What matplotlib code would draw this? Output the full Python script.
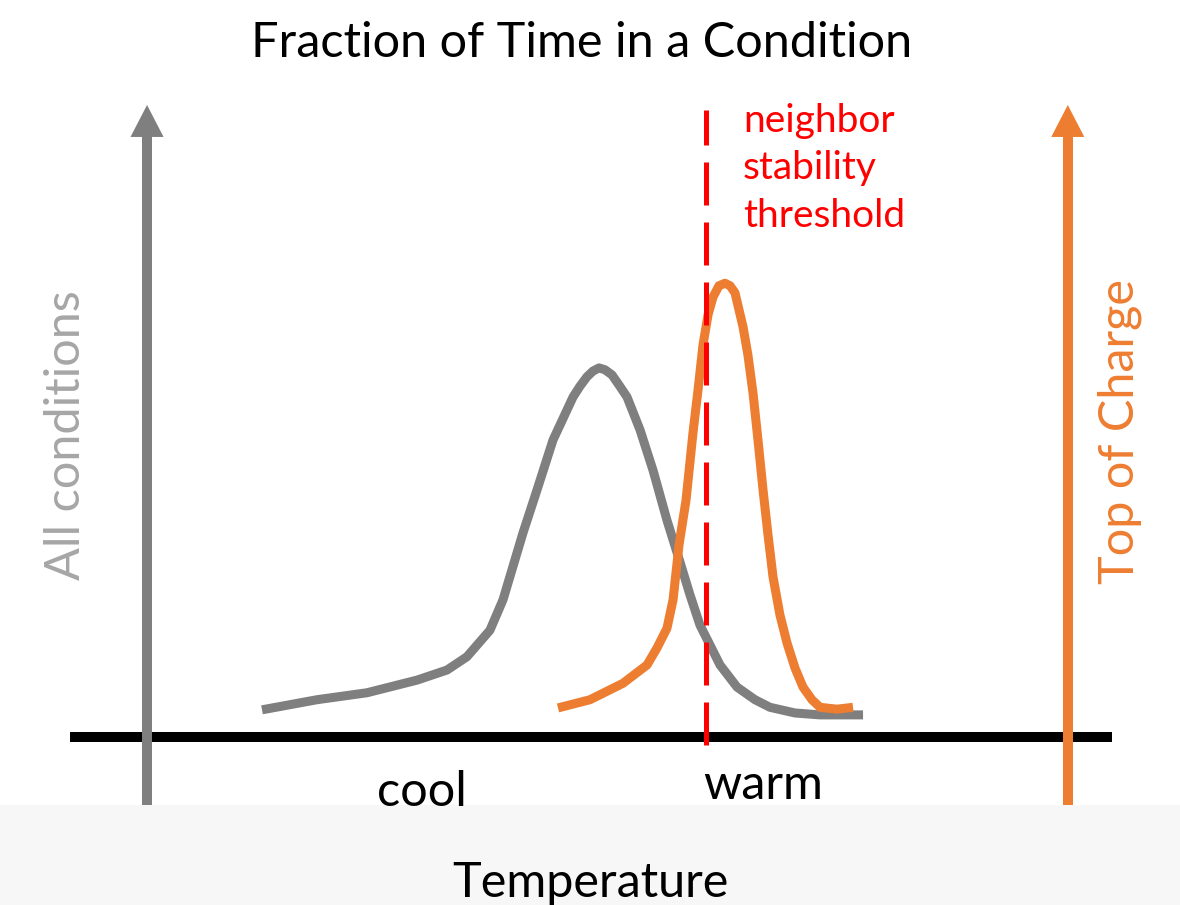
import matplotlib
matplotlib.use("Agg")
import matplotlib.pyplot as plt
from matplotlib.patches import Rectangle, ArrowStyle

# ---- data (temperature index 0..100, fraction of time 0..1) ----
all_temp = [18.12, 23.45, 28.29, 33.14, 36.05, 37.98, 40.21, 41.47, 43.41, 44.77, 46.32,
            48.26, 48.93, 49.61, 50.19, 50.78, 51.36, 52.03, 52.71, 53.49, 54.75, 56.01,
            57.36, 58.62, 59.59, 60.56, 62.50, 64.15, 65.89, 67.34, 69.77, 72.19, 76.36]
all_frac = [0.043, 0.059, 0.070, 0.090, 0.106, 0.127, 0.169, 0.217, 0.323, 0.391, 0.470,
            0.538, 0.555, 0.570, 0.579, 0.584, 0.581, 0.573, 0.557, 0.538, 0.486, 0.422,
            0.343, 0.277, 0.225, 0.177, 0.114, 0.079, 0.059, 0.047, 0.038, 0.035, 0.035]

top_temp = [46.80, 49.90, 53.10, 55.43, 56.40, 57.36, 57.95, 58.53, 59.21, 59.88, 60.37,
            60.85, 61.34, 61.82, 62.40, 62.98, 63.47, 63.95, 64.73, 65.21, 65.70, 66.18,
            66.67, 67.15, 67.64, 68.31, 68.99, 69.77, 70.54, 71.41, 72.19, 73.84, 75.39]
top_frac = [0.046, 0.059, 0.085, 0.114, 0.141, 0.172, 0.217, 0.304, 0.375, 0.481, 0.549,
            0.620, 0.668, 0.696, 0.714, 0.718, 0.714, 0.703, 0.649, 0.604, 0.544, 0.470,
            0.391, 0.320, 0.253, 0.193, 0.149, 0.109, 0.079, 0.059, 0.047, 0.044, 0.047]

threshold_temp = 61.1
cool_temp, warm_temp = 33.6, 66.6
title = "Fraction of Time in a Condition"
xlabel = "Temperature"
left_label = "All conditions"
right_label = "Top of Charge"
threshold_lines = ["neighbor", "stability", "threshold"]

GRAY = "#7F7F7F"
LABEL_GRAY = "#A6A6A6"
ORANGE = "#ED7D31"
RED = "#FF0000"

plt.rcParams['font.family'] = ['Lato', 'DejaVu Sans']

W, H = 1180, 905
fig = plt.figure(figsize=(W / 100, H / 100), dpi=100)
fig.patch.set_facecolor("white")

# light band at bottom
fig.patches.append(Rectangle((0, 0), 1, 100 / H, transform=fig.transFigure,
                             facecolor="#F7F7F7", edgecolor="none", zorder=0))

ax = fig.add_axes([75 / W, (H - 737) / H, (1107 - 75) / W, (737 - 105) / H])
ax.set_xlim(0, 100)
ax.set_ylim(0, 1)
ax.axis("off")
ax.patch.set_alpha(0)

# baseline
ax.axhline(0, color="black", lw=7.2, zorder=2, clip_on=False)

# vertical axis arrows
head = ArrowStyle('-|>', head_length=23, head_width=11.9)
for xv, col in [(6.98, GRAY), (96.2, ORANGE)]:
    ax.plot([xv, xv], [-0.116, 0.955], color=col, lw=7.2, solid_capstyle="butt",
            zorder=3, clip_on=False)
    ax.annotate("", xy=(xv, 1.0), xytext=(xv, 0.85),
                arrowprops=dict(arrowstyle=head, mutation_scale=1, lw=0, color=col,
                                shrinkA=0, shrinkB=0), annotation_clip=False, zorder=3)

# curves
ax.plot(all_temp, all_frac, color=GRAY, lw=6.5, solid_capstyle="butt",
        solid_joinstyle="round", zorder=4, clip_on=False)
ax.plot(top_temp, top_frac, color=ORANGE, lw=6.5, solid_capstyle="butt",
        solid_joinstyle="round", zorder=5, clip_on=False)

# threshold
ax.plot([threshold_temp, threshold_temp], [-0.0127, 0.992], color=RED, lw=3.6, zorder=6,
        dashes=(8.6, 3.4), clip_on=False)
for i, line in enumerate(threshold_lines):
    fig.text(743 / W, 1 - (132 + 47.5 * i) / H, line, color=RED, fontsize=28,
             ha="left", va="baseline")

# labels
fig.text(422 / W, 1 - 806 / H, "cool", fontsize=35, ha="center", va="baseline")
fig.text(763 / W, 1 - 799 / H, "warm", fontsize=35, ha="center", va="baseline")
fig.text(590 / W, 1 - 897 / H, xlabel, fontsize=35, ha="center", va="baseline")
fig.text(582 / W, 1 - 57 / H, title, fontsize=35, ha="center", va="baseline")
fig.text(66 / W, 1 - 435 / H, left_label, fontsize=35, color=LABEL_GRAY, rotation=90,
         ha="center", va="center")
fig.text(1120 / W, 1 - 432 / H, right_label, fontsize=35, color=ORANGE, rotation=90,
         ha="center", va="center")

fig.savefig("out.png", dpi=100)
